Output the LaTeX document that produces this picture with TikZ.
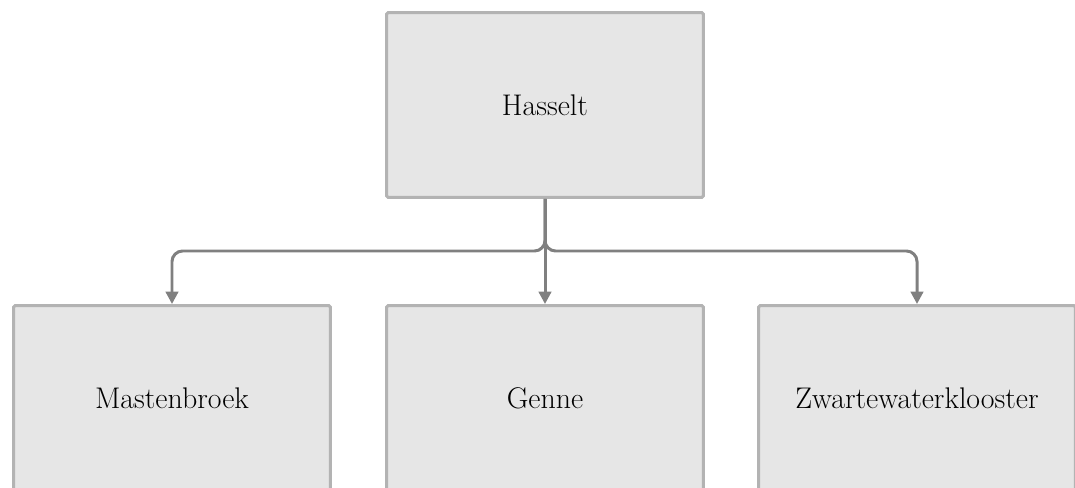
\documentclass[tikz,border=0pt]{standalone}
\usepackage{tikz}
\usetikzlibrary{arrows.meta,positioning}
\definecolor{boxfill}{HTML}{E6E6E6}
\definecolor{boxline}{HTML}{B3B3B3}
\definecolor{linkgray}{HTML}{808080}

\begin{document}
\begin{tikzpicture}[x=0.02cm,y=-0.02cm,
  place/.style={draw=boxline,fill=boxfill,line width=1.7pt,rounded corners=1pt,
                minimum width=6.34cm,minimum height=3.7cm,inner sep=0pt,
                font=\fontsize{17}{20}\selectfont},
  link/.style={draw=linkgray,line width=1.7pt,rounded corners=6pt,
               -{Triangle[length=7pt,width=7pt]}}]
 \useasboundingbox (0,0) rectangle (1075,487);
 \node[place] (hasselt) at (545,105) {Hasselt};
 \node[place] (masten) at (172,398) {Mastenbroek};
 \node[place] (genne) at (545,398) {Genne};
 \node[place] (zwarte) at (917,398) {Zwartewaterklooster};
 \coordinate (split) at (545,251);
 \draw[link] (hasselt.south) -- (split) -| (masten.north);
 \draw[link] (hasselt.south) -- (genne.north);
 \draw[link] (hasselt.south) -- (split) -| (zwarte.north);
\end{tikzpicture}
\end{document}
